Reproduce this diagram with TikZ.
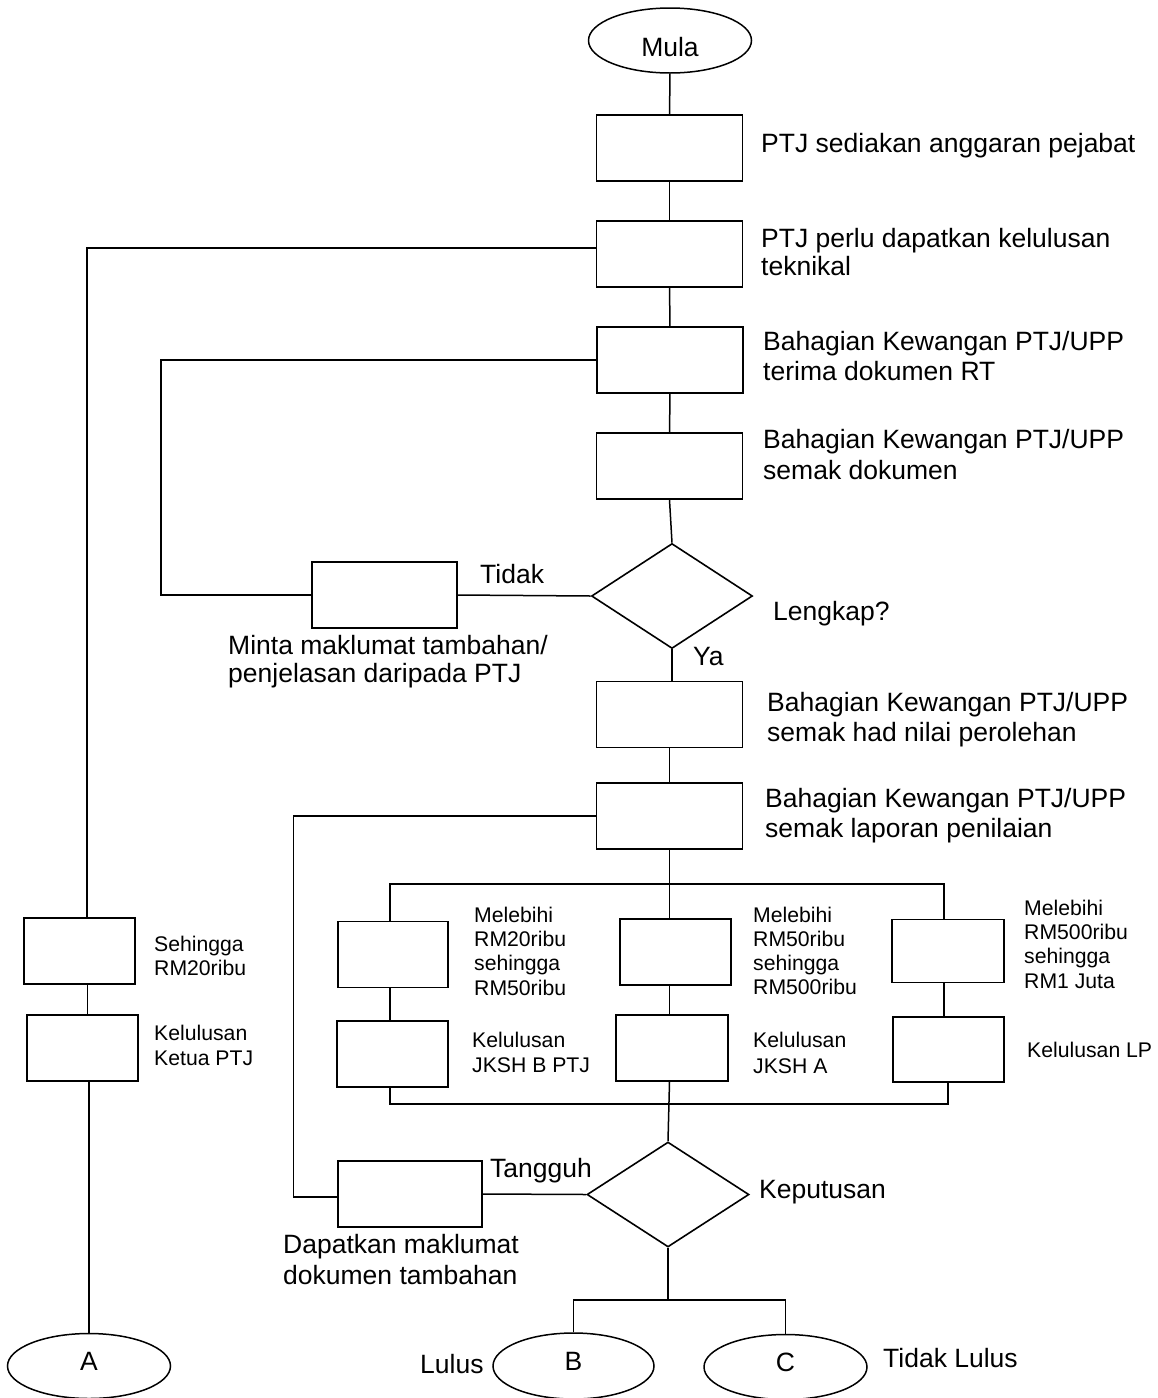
\documentclass[tikz,border=0pt]{standalone}
\usepackage{fontspec}
\setmainfont{Liberation Sans}
\usetikzlibrary{shapes.geometric}
\newcommand\fbig{\fontsize{26.5}{29.5}\selectfont}
\newcommand\fsmall{\fontsize{21.2}{24.2}\selectfont}
\begin{document}
\begin{tikzpicture}[x=1pt,y=-1pt,
  box/.style={draw, line width=1.8pt, rectangle, inner sep=0pt, minimum width=#1, minimum height=66pt},
  box/.default=146pt,
  dia/.style={draw, line width=1.6pt, diamond, inner sep=0pt, minimum width=161pt, minimum height=105pt},
  term/.style={draw, line width=1.5pt, ellipse, inner sep=0pt, minimum width=163pt, minimum height=65pt, font=\fbig},
  lab/.style={anchor=base west, inner sep=0pt, align=left, font=\fbig},
  slab/.style={anchor=base west, inner sep=0pt, align=left, font=\fsmall},
  conn/.style={line width=1.5pt}]
\useasboundingbox (0,0) rectangle (1157,1398);
\fill[white] (0,0) rectangle (1157,1398);
% main column
\node[term, text height=31pt, text depth=0pt] (mula) at (670,40.5) {Mula};
\node[box] (b1) at (669.5,148) {};
\node[box] (b2) at (669.5,254) {};
\node[box] (b3) at (670,360) {};
\node[box] (b4) at (669.5,466) {};
\node[dia] (d1) at (672,596) {};
\node[box=145pt] (minta) at (384.5,595) {};
\node[box] (b5) at (669.5,714.5) {};
\node[box] (b6) at (669.5,816) {};
% branches
\node[box=110pt] (L1) at (393,954.5) {};
\node[box=111pt] (L2) at (392.5,1054) {};
\node[box=111pt] (M1) at (675.5,952) {};
\node[box=112pt] (M2) at (672,1048) {};
\node[box=112pt, minimum height=63pt] (R1) at (948,951) {};
\node[box=111pt, minimum height=65pt] (R2) at (948.5,1049.5) {};
\node[box=111pt] (S1) at (79.5,951) {};
\node[box=111pt] (S2) at (82.5,1048) {};
\node[dia, minimum width=162pt] (d2) at (668,1194.5) {};
\node[box=144pt] (dap) at (410,1194) {};
% terminals
\node[term, text height=19pt, text depth=10pt] (A) at (89,1366) {A};
\node[term, minimum width=161pt, minimum height=66pt, text height=19pt, text depth=10pt] (B) at (573.5,1366) {B};
\node[term, text height=19pt, text depth=10pt] (C) at (785.5,1367) {C};
% labels (anchor = baseline of the last line)
\node[lab] (t1) at (761,152) {PTJ sediakan anggaran pejabat};
\node[lab, font=\fontsize{26.5}{27.5}\selectfont] (t2) at (761,275) {PTJ perlu dapatkan kelulusan\\teknikal};
\node[lab] (t3) at (763,380) {Bahagian Kewangan PTJ/UPP\\terima dokumen RT};
\node[lab, font=\fontsize{26.5}{30.5}\selectfont] (t4) at (763,479) {Bahagian Kewangan PTJ/UPP\\semak dokumen};
\node[lab, font=\fontsize{26.5}{30}\selectfont] (t5) at (767,741) {Bahagian Kewangan PTJ/UPP\\semak had nilai perolehan};
\node[lab, font=\fontsize{26.5}{30}\selectfont] (t6) at (765,837) {Bahagian Kewangan PTJ/UPP\\semak laporan penilaian};
\node[lab] (tlk) at (773,620) {Lengkap?};
\node[lab] (ttd) at (480,583) {Tidak};
\node[lab] (tya) at (693,665) {Ya};
\node[lab, font=\fontsize{26.5}{28}\selectfont] (tmin) at (228,682) {Minta maklumat tambahan/\\penjelasan daripada PTJ};
\node[lab, font=\fontsize{26.5}{31}\selectfont] (tdap) at (283,1284) {Dapatkan maklumat\\dokumen tambahan};
\node[lab] (ttg) at (490,1177) {Tangguh};
\node[lab] (tkp) at (759,1198) {Keputusan};
\node[lab] (tll) at (420,1373) {Lulus};
\node[lab] (ttl) at (883,1367) {Tidak Lulus};
\node[slab, font=\fontsize{21.2}{24}\selectfont] (ts1) at (154,975) {Sehingga\\RM20ribu};
\node[slab, font=\fontsize{21.2}{25}\selectfont] (ts2) at (154,1065) {Kelulusan\\Ketua PTJ};
\node[slab, font=\fontsize{21.2}{24.3}\selectfont] (tl1) at (474,995) {Melebihi\\RM20ribu\\sehingga\\RM50ribu};
\node[slab] (tl2) at (472,1072) {Kelulusan\\JKSH B PTJ};
\node[slab, font=\fontsize{21.2}{23.7}\selectfont] (tm1) at (753,994) {Melebihi\\RM50ribu\\sehingga\\RM500ribu};
\node[slab, font=\fontsize{21.2}{26}\selectfont] (tm2) at (753,1073) {Kelulusan\\JKSH A};
\node[slab, font=\fontsize{21.2}{24.3}\selectfont] (tr1) at (1024,988) {Melebihi\\RM500ribu\\sehingga\\RM1 Juta};
\node[slab] (tr2) at (1027,1057) {Kelulusan LP};
% connectors
\begin{scope}[conn]
\draw (mula) -- (b1);
\draw (b1) -- (b2);
\draw (b2) -- (b3);
\draw (b3) -- (b4);
\draw (b4.south) -- (d1.north);
\draw (d1.south) -- (d1.south |- b5.north);
\draw (b5) -- (b6);
\draw (minta.east) -- (d1.west);
\draw (b3.west) -- ++(-435,0) |- (minta.west);
\draw ([yshift=6pt]b2.west) -| ([xshift=7.5pt]S1.north);
\draw ([xshift=8pt]S1.south) -- ([xshift=8pt]S1.south |- S2.north);
\draw (A.north |- S2.south) -- (A.north);
\draw (b6.west) -- ++(-302,0) |- ([yshift=-3pt]dap.west);
\coordinate (busL) at (390,884);
\coordinate (busR) at (944,884);
\draw (b6.south) -- (b6.south |- M1.north);
\draw (busL |- L1.north) -- (busL) -- (busR) -- (busR |- R1.north);
\draw (busL |- L1.south) -- (busL |- L2.north);
\draw (b6.south |- M1.south) -- (b6.south |- M2.north);
\draw (busR |- R1.south) -- (busR |- R2.north);
\coordinate (bbL) at (390,1104);
\coordinate (bbR) at (948,1104);
\draw (busL |- L2.south) -- (bbL) -- (bbR) -- (bbR |- R2.south);
\draw (b6.south |- M2.south) -- (d2.north);
\draw (dap.east) -- (d2.west);
\coordinate (bot) at (668,1300);
\draw (d2.south) -- (bot);
\draw (B.north) -- (B.north |- bot) -- (C.north |- bot) -- (C.north);
\end{scope}
\end{tikzpicture}
\end{document}
